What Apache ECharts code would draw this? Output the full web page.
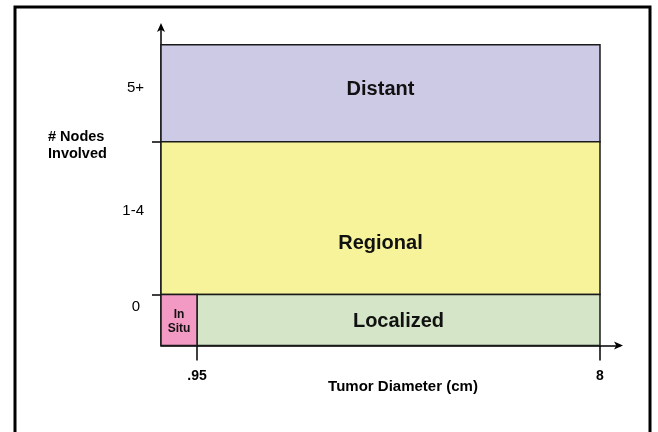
<!DOCTYPE html>
<html><head><meta charset="utf-8">
<script src="https://cdn.jsdelivr.net/npm/echarts@6/dist/echarts.min.js"></script>
<style>html,body{margin:0;padding:0;background:#fff}#c{width:658px;height:432px}</style>
</head><body><div id="c"></div>
<script>
// ---- data ----
const stageNames = ['Distant', 'Regional', 'Localized', 'In Situ'];
const stageLabels = ['Distant', 'Regional', 'Localized', 'In\nSitu'];
const diameterStart = [0.32, 0.32, 0.95, 0.32];
const diameterEnd = [8, 8, 8, 0.95];
const nodesLow = [4, 1, 0, 0];
const nodesHigh = [5.9, 4, 1, 1];
const stageLabelNodes = [5.03, 2.0, 0.48, 0.46];
const stageColors = ['#cdcae6', '#f6f39b', '#d4e6c7', '#f39ac4'];
const xTickValues = [0.95, 8];
const xTickLabels = ['.95', '8'];
const yBoundaryValues = [1, 4];
const yLabelValues = [0.75, 2.65, 5.05];
const yTickLabels = ['0', '1-4', '5+'];
const xAxisTitle = 'Tumor Diameter (cm)';
const yAxisTitle = '# Nodes\nInvolved';

const FONT = '"Liberation Sans", Arial, Helvetica, sans-serif';
const chart = echarts.init(document.getElementById('c'), null, {renderer: 'canvas'});

const seriesData = stageNames.map((n, i) => ({
  name: n,
  value: [diameterStart[i], diameterEnd[i], nodesLow[i], nodesHigh[i], stageLabelNodes[i]]
}));

chart.setOption({
  animation: false,
  backgroundColor: '#fff',
  grid: {left: 161, right: 38, top: 26, bottom: 86.5, outerBoundsMode: 'none'},
  xAxis: {
    type: 'value', min: 0.32, max: 8.35,
    splitLine: {show: false},
    axisLine: {show: true, onZero: false, lineStyle: {color: '#000', width: 1.5},
      symbol: ['none', 'arrow'], symbolSize: [6, 9], symbolOffset: [0, 3]},
    axisTick: {show: true, customValues: xTickValues, length: 15, lineStyle: {color: '#000', width: 1.5}},
    axisLabel: {show: true, customValues: xTickValues, margin: 24,
      formatter: v => xTickLabels[xTickValues.indexOf(v)],
      color: '#000', fontFamily: FONT, fontWeight: 'bold', fontSize: 14}
  },
  yAxis: {
    type: 'value', min: 0, max: 6.27,
    splitLine: {show: false},
    axisLine: {show: true, onZero: false, lineStyle: {color: '#000', width: 1.5},
      symbol: ['none', 'arrow'], symbolSize: [6, 9], symbolOffset: [0, 3]},
    axisTick: {show: true, customValues: yBoundaryValues, length: 9, lineStyle: {color: '#000', width: 1.5}},
    axisLabel: {show: true, customValues: yLabelValues, margin: 17,
      formatter: v => {
        const t = yTickLabels[yLabelValues.indexOf(v)];
        return t === '0' ? '{z|' + t + '}' : t;
      },
      rich: {z: {fontFamily: FONT, fontSize: 15, color: '#000', padding: [0, 4, 0, 0]}},
      color: '#000', fontFamily: FONT, fontSize: 15}
  },
  graphic: [
    {type: 'rect', shape: {x: 15, y: 7, width: 635, height: 450}, style: {fill: 'none', stroke: '#000', lineWidth: 3}, silent: true},
    {type: 'text', x: 48, y: 128, style: {text: yAxisTitle, font: 'bold 14.5px ' + FONT, fill: '#000', lineHeight: 17}},
    {type: 'text', x: 403, y: 387, style: {text: xAxisTitle, font: 'bold 15px ' + FONT, fill: '#000', align: 'center', verticalAlign: 'middle'}}
  ],
  series: [{
    type: 'custom',
    coordinateSystem: 'cartesian2d',
    encode: {x: [0, 1], y: [2, 3]},
    data: seriesData,
    renderItem: function (params, api) {
      const i = params.dataIndex;
      const p0 = api.coord([api.value(0), api.value(3)]);
      const p1 = api.coord([api.value(1), api.value(2)]);
      const pl = api.coord([0, api.value(4)]);
      const w = p1[0] - p0[0], h = p1[1] - p0[1];
      const small = w < 60;
      return {
        type: 'group',
        children: [
          {type: 'rect', shape: {x: p0[0], y: p0[1], width: w, height: h},
            style: {fill: stageColors[i], stroke: '#1a1a1a', lineWidth: 1.5}},
          {type: 'text', x: p0[0] + w / 2, y: pl[1],
            style: {text: stageLabels[i], fill: '#111',
              font: (small ? 'bold 12px ' : 'bold 20px ') + FONT,
              lineHeight: small ? 14 : 24, align: 'center', verticalAlign: 'middle'}}
        ]
      };
    },
    z: 1
  }]
});
</script>
</body></html>
